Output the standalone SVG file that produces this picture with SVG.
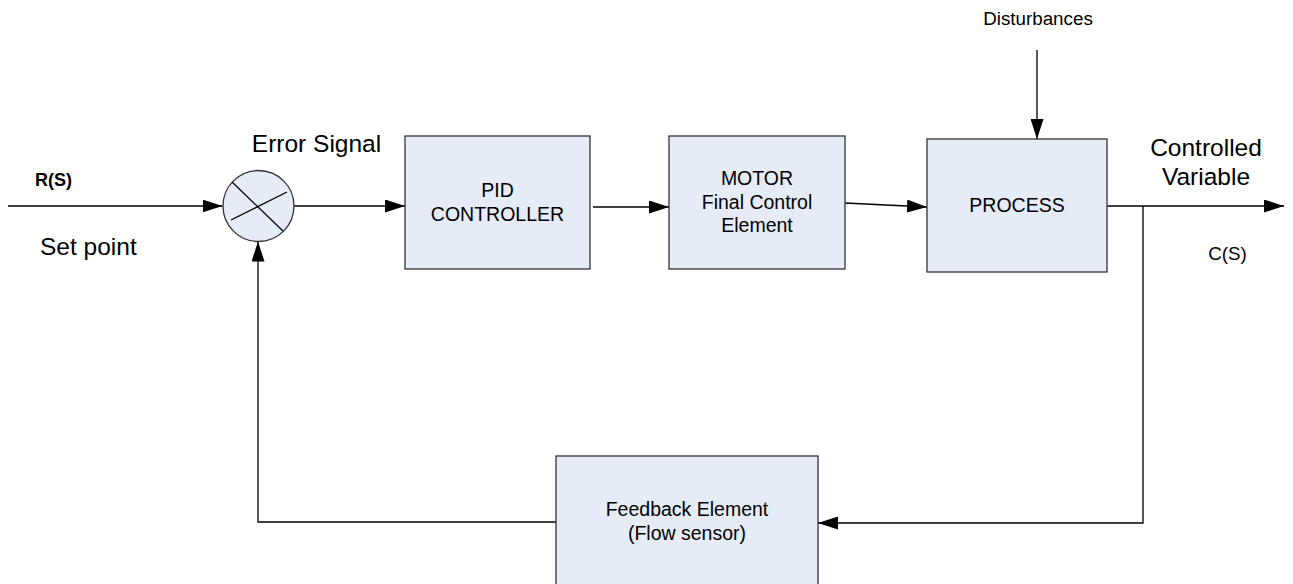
<svg xmlns="http://www.w3.org/2000/svg" width="1293" height="584" viewBox="0 0 1293 584">
  <style>
    .block { fill: #e6ecf7; stroke: #333333; stroke-width: 1.3; }
    .wire { fill: none; stroke: #000000; stroke-width: 1.3; }
    .lbl { font-family: "Liberation Sans", Arial, sans-serif; fill: #000000; }
    .big { font-size: 24.5px; }
    .box { font-size: 19.5px; text-anchor: middle; }
    .small { font-size: 18.8px; text-anchor: middle; }
  </style>
  <defs>
    <marker id="arrow" viewBox="0 0 20 13" refX="20" refY="6.5" markerWidth="20" markerHeight="13" markerUnits="userSpaceOnUse" orient="auto">
      <path d="M0,0 L20,6.5 L0,13 Z" fill="#000000"/>
    </marker>
  </defs>

  <rect width="1293" height="584" fill="#ffffff"/>

  <!-- signal lines -->
  <g id="connectors">
    <line class="wire" x1="8" y1="206" x2="222.5" y2="206" marker-end="url(#arrow)"/>
    <line class="wire" x1="294" y1="206" x2="405" y2="206" marker-end="url(#arrow)"/>
    <line class="wire" x1="593" y1="207" x2="669" y2="207" marker-end="url(#arrow)"/>
    <line class="wire" x1="845" y1="203" x2="927" y2="207" marker-end="url(#arrow)"/>
    <line class="wire" x1="1107" y1="206" x2="1284" y2="206" marker-end="url(#arrow)"/>
    <line class="wire" x1="1037" y1="50" x2="1037" y2="139" marker-end="url(#arrow)"/>
    <polyline class="wire" points="1143,206 1143,523 818,523" marker-end="url(#arrow)"/>
    <polyline class="wire" points="556,522 258,522 258,241.5" marker-end="url(#arrow)"/>
  </g>

  <!-- summing junction -->
  <g id="summing-junction">
    <circle class="block" cx="258.5" cy="206" r="35.5"/>
    <line class="wire" x1="232" y1="182" x2="283" y2="231"/>
    <line class="wire" x1="231" y1="220" x2="287" y2="192"/>
  </g>

  <g id="pid-controller">
    <rect class="block" x="405" y="136" width="185" height="133"/>
    <text class="lbl box" x="497.5" y="197">PID</text>
    <text class="lbl box" x="497.5" y="221">CONTROLLER</text>
  </g>

  <g id="motor">
    <rect class="block" x="669" y="136" width="176" height="133"/>
    <text class="lbl box" x="757" y="185">MOTOR</text>
    <text class="lbl box" x="757" y="209">Final Control</text>
    <text class="lbl box" x="757" y="232">Element</text>
  </g>

  <g id="process">
    <rect class="block" x="927" y="139" width="180" height="133"/>
    <text class="lbl box" x="1017" y="212">PROCESS</text>
  </g>

  <g id="feedback-element">
    <rect class="block" x="556" y="456" width="262" height="140"/>
    <text class="lbl box" x="687" y="516">Feedback Element</text>
    <text class="lbl box" x="687" y="540">(Flow sensor)</text>
  </g>

  <!-- signal labels -->
  <g id="labels">
    <text class="lbl" x="35" y="186" font-size="18px" font-weight="bold">R(S)</text>
    <text class="lbl big" x="40" y="255">Set point</text>
    <text class="lbl big" x="316.5" y="152" text-anchor="middle">Error Signal</text>
    <text class="lbl small" x="1038" y="25">Disturbances</text>
    <text class="lbl big" x="1206" y="156" text-anchor="middle">Controlled</text>
    <text class="lbl big" x="1206" y="185" text-anchor="middle">Variable</text>
    <text class="lbl small" x="1227.5" y="260">C(S)</text>
  </g>
</svg>
